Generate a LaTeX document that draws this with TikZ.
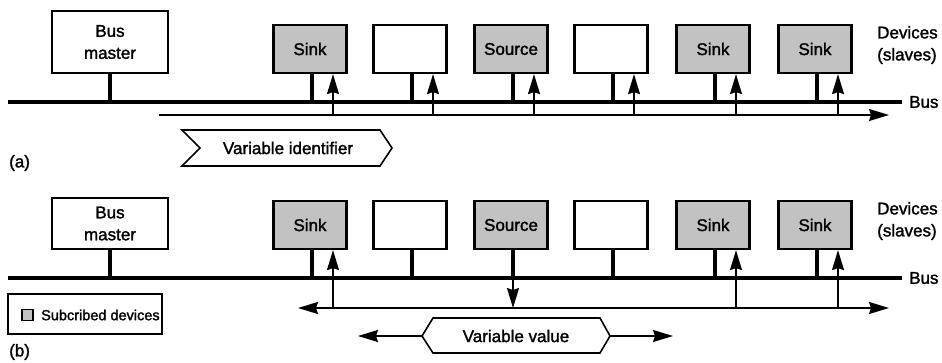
\documentclass[tikz,border=0pt]{standalone}
\usepackage{fontspec}
\setmainfont{Liberation Sans}[FakeBold=1.6]
\usetikzlibrary{arrows.meta}
\begin{document}
\begin{tikzpicture}[x=1pt,y=-1pt,
  txt/.style={font=\fontsize{17}{22}\selectfont, inner sep=0pt},
  box/.style={draw, line width=2.2pt, minimum width=73pt, minimum height=48pt, inner sep=0pt, txt},
  sub/.style={box, fill=black!24},
  master/.style={box, minimum width=116pt, align=center},
  bus/.style={line width=4.5pt},
  stub/.style={line width=3.2pt},
  arr/.style={line width=1.5pt, -{Stealth[length=20pt,width=12pt,inset=2pt]}},
  darr/.style={line width=1.5pt, {Stealth[length=20pt,width=12pt,inset=2pt]}-{Stealth[length=20pt,width=12pt,inset=2pt]}},
  tag/.style={draw, line width=1.6pt},
]
\useasboundingbox (0,0) rectangle (942,362);

% ---------------- panel (a) ----------------
\node[master, minimum height=62pt] (mA) at (110,42) {Bus\\master};
\node[sub] (a1) at (310,49) {Sink};
\node[box] (a2) at (410,49) {};
\node[sub] (a3) at (511,49) {Source};
\node[box] (a4) at (611,49) {};
\node[sub] (a5) at (713,49) {Sink};
\node[sub] (a6) at (815,49) {Sink};

\coordinate (busAl) at (8,102);
\coordinate (busAr) at (902,102);
\draw[bus] (busAl) -- (busAr);
\draw[stub] (mA.south) -- (mA.south |- busAl);
\foreach \n in {a1,a2,a3,a4,a5,a6}
  \draw[stub] ([xshift=2pt]\n.south) -- ([xshift=2pt]\n.south |- busAl);

\coordinate (linAl) at (159,115);
\coordinate (linAr) at (889,115);
\draw[arr] (linAl) -- (linAr);
\foreach \n in {a1,a2,a3,a4,a5,a6}
  \draw[arr] ([xshift=23pt]\n.south |- linAl) -- ([xshift=23pt]\n.south);

\draw[tag] (182,130) -- (380,130) -- (392,148) -- (380,166) -- (182,166) -- (200,148) -- cycle;
\node[txt] (vid) at (288,148) {Variable identifier};

\node[txt, anchor=west] (la) at (9,163) {(a)};
\node[txt, anchor=west, align=left] (devA) at (877,45) {Devices\\(slaves)};
\node[txt, anchor=west] (busAlab) at (909,102) {Bus};

% ---------------- panel (b) ----------------
\node[master, minimum height=51pt] (mB) at (110,223.5) {Bus\\master};
\node[sub] (b1) at (310,225) {Sink};
\node[box] (b2) at (410,225) {};
\node[sub] (b3) at (511,225) {Source};
\node[box] (b4) at (611,225) {};
\node[sub] (b5) at (713,225) {Sink};
\node[sub] (b6) at (815,225) {Sink};

\coordinate (busBl) at (8,278);
\coordinate (busBr) at (902,278);
\draw[bus] (busBl) -- (busBr);
\draw[stub] (mB.south) -- (mB.south |- busBl);
\foreach \n in {b1,b2,b3,b4,b5,b6}
  \draw[stub] ([xshift=2pt]\n.south) -- ([xshift=2pt]\n.south |- busBl);

\coordinate (linBl) at (298,308);
\coordinate (linBr) at (889,308);
\draw[darr] (linBl) -- (linBr);
\draw[arr] ([xshift=2pt]b3.south) -- ([xshift=2pt]b3.south |- linBl);
\foreach \n in {b1,b5,b6}
  \draw[arr] ([xshift=23pt]\n.south |- linBl) -- ([xshift=23pt]\n.south);

\draw[tag] (422,336) -- (433,318) -- (600,318) -- (610,336) -- (600,353) -- (433,353) -- cycle;
\node[txt] (vval) at (516,336) {Variable value};
\coordinate (vvL) at (422,336);
\coordinate (vvLt) at (358,336);
\coordinate (vvR) at (610,336);
\coordinate (vvRt) at (673,336);
\draw[arr, line width=1.2pt] (vvL) -- (vvLt);
\draw[arr, line width=1.2pt] (vvR) -- (vvRt);

\node[draw, line width=1.5pt, minimum width=154pt, minimum height=40pt, inner sep=0pt] (leg) at (85,314) {};
\node[draw, fill=black!24, line width=1.1pt, minimum size=11pt, inner sep=0pt] (legsq) at (27.5,315) {};
\node[anchor=west, font=\fontsize{14.5}{17}\selectfont, inner sep=0pt] (legt) at (41,315) {Subcribed devices};

\node[txt, anchor=west] (lb) at (9,352) {(b)};
\node[txt, anchor=west, align=left] (devB) at (877,221) {Devices\\(slaves)};
\node[txt, anchor=west] (busBlab) at (909,278) {Bus};
\end{tikzpicture}
\end{document}
